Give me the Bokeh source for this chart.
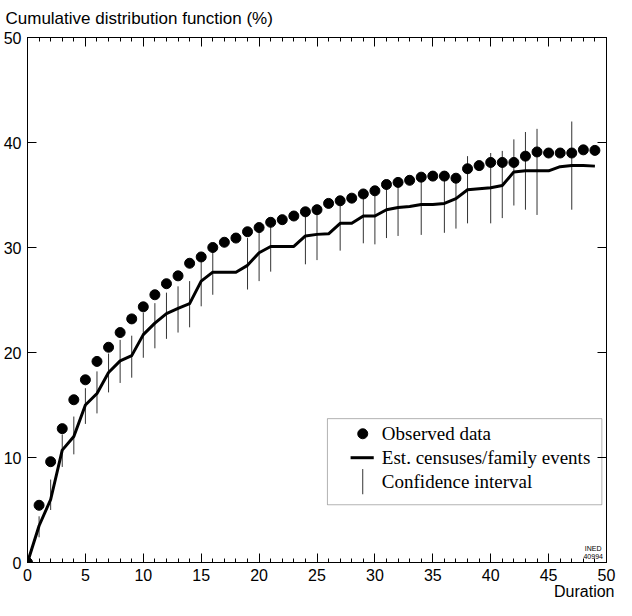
from bokeh.plotting import figure
from bokeh.models import LinearAxis, FixedTicker, Range1d, Title, Label, BoxAnnotation
from bokeh.embed import file_html
from bokeh.resources import INLINE

# ---------------- data ----------------
durations = list(range(50))
observed = [0.0, 5.45, 9.6, 12.75, 15.5, 17.4, 19.15, 20.5, 21.9, 23.2,
            24.35, 25.5, 26.55, 27.3, 28.5, 29.1, 30.0, 30.5, 30.9, 31.5,
            31.9, 32.4, 32.65, 33.0, 33.4, 33.6, 34.2, 34.45, 34.7, 35.1,
            35.4, 36.0, 36.2, 36.4, 36.7, 36.8, 36.8, 36.6, 37.5, 37.8,
            38.1, 38.1, 38.1, 38.7, 39.1, 39.0, 39.0, 39.0, 39.3, 39.25]
estimated = [0.0, 3.5, 6.0, 10.7, 12.0, 15.0, 16.1, 18.1, 19.2, 19.7,
             21.7, 22.8, 23.7, 24.2, 24.65, 26.8, 27.65, 27.65, 27.65, 28.3,
             29.5, 30.1, 30.1, 30.1, 31.1, 31.25, 31.3, 32.3, 32.3, 33.0,
             33.0, 33.6, 33.8, 33.9, 34.1, 34.1, 34.2, 34.65, 35.5, 35.6,
             35.7, 35.9, 37.2, 37.3, 37.3, 37.3, 37.7, 37.8, 37.8, 37.75]
ci_x = [1, 2, 3, 4, 5, 6, 7, 8, 9, 10, 11, 12, 13, 14, 15, 16, 19, 20, 21,
        24, 25, 27, 29, 30, 31, 32, 34, 36, 37, 38, 40, 41, 42, 43, 44, 47]
ci_low = [2.4, 5.0, 9.1, 10.3, 13.2, 14.2, 16.2, 17.1, 17.6, 19.5, 20.4, 21.3,
          21.9, 22.4, 24.4, 25.5, 26.0, 26.8, 27.7, 28.4, 28.8, 29.7, 30.4,
          30.3, 30.9, 31.1, 31.2, 31.4, 31.8, 32.3, 32.3, 32.8, 34.0, 33.6,
          33.1, 33.6]
ci_high = [4.4, 7.9, 12.2, 13.9, 16.6, 18.2, 19.9, 21.2, 21.6, 23.8, 24.7, 25.7,
           26.3, 26.8, 28.7, 29.8, 30.9, 31.9, 32.4, 33.3, 33.6, 34.4, 35.0,
           35.3, 35.9, 36.1, 36.5, 36.7, 37.0, 38.7, 39.0, 39.2, 40.3, 41.0,
           41.3, 42.0]

x_ticks = [0, 5, 10, 15, 20, 25, 30, 35, 40, 45, 50]
x_minor_ticks = list(range(0, 51))
y_ticks = [0, 10, 20, 30, 40, 50]

title_text = "Cumulative distribution function (%)"
x_label = "Duration"
legend_labels = ["Observed data", "Est. censuses/family events", "Confidence interval"]
stamp_lines = ["INED", "40994"]

SANS = "Liberation Sans"
SERIF = "Liberation Serif"

# ---------------- figure ----------------
p = figure(width=616, height=600, output_backend="svg", toolbar_location=None,
           x_range=Range1d(0, 50), y_range=Range1d(0, 50),
           x_axis_location=None, y_axis_location=None,
           min_border_left=22, min_border_right=10, min_border_top=0, min_border_bottom=0)
p.grid.visible = False
p.outline_line_color = "black"
p.outline_line_width = 1
p.background_fill_color = "white"
p.border_fill_color = "white"


def style_axis(ax, ticks, labels, minor=True):
    ax.axis_label = None
    ax.axis_line_color = "black"
    ax.axis_line_width = 1
    ax.major_tick_line_color = "black"
    ax.minor_tick_line_color = "black"
    ax.major_tick_in = 9
    ax.major_tick_out = 0
    ax.minor_tick_in = 4 if minor else 0
    ax.minor_tick_out = 0
    ax.axis_label_standoff = 0
    ax.major_label_text_font = SANS
    ax.major_label_text_font_size = "16px"
    ax.major_label_text_color = "black"
    if not labels:
        ax.major_label_overrides = {t: "" for t in ticks}
        ax.major_label_standoff = 0


xb = LinearAxis(ticker=FixedTicker(ticks=x_ticks, minor_ticks=x_minor_ticks))
style_axis(xb, x_ticks, True)
xb.major_label_standoff = 6
xt = LinearAxis(ticker=FixedTicker(ticks=x_ticks, minor_ticks=x_minor_ticks))
style_axis(xt, x_ticks, False)
yl = LinearAxis(ticker=FixedTicker(ticks=y_ticks, minor_ticks=[]))
style_axis(yl, y_ticks, True, minor=False)
yl.major_label_standoff = 6
yr = LinearAxis(ticker=FixedTicker(ticks=y_ticks, minor_ticks=[]))
style_axis(yr, y_ticks, False, minor=False)

p.add_layout(xb, "below")
p.add_layout(xt, "above")
p.add_layout(yl, "left")
p.add_layout(yr, "right")

p.add_layout(Title(text=title_text, align="left", offset=-22, standoff=16, vertical_align="top",
                   text_font=SANS, text_font_size="17px", text_font_style="normal",
                   text_color="black"), "above")
p.add_layout(Title(text=x_label, align="right", offset=-8, standoff=-2, vertical_align="top",
                   text_font=SANS, text_font_size="16px", text_font_style="normal",
                   text_color="black"), "below")

# ---------------- data marks ----------------
p.segment(x0=ci_x, y0=ci_low, x1=ci_x, y1=ci_high, line_color="#333333", line_width=1)
p.line(durations, estimated, line_color="black", line_width=3, line_join="round")
p.scatter(durations, observed, size=10, fill_color="black", line_color="black")

# ---------------- legend (drawn by hand) ----------------
LG = dict(left=25.9, right=49.6, top=13.7, bottom=5.5,
          sym_x=28.95, line_x0=27.9, line_x1=29.9, text_x=30.6,
          rows=[12.26, 9.98, 7.7], ci_y0=6.5, ci_y1=8.9)
p.add_layout(BoxAnnotation(left=LG["left"], right=LG["right"], top=LG["top"], bottom=LG["bottom"],
                           fill_color=None, line_color="black", line_width=1))
p.scatter([LG["sym_x"]], [LG["rows"][0]], size=10, fill_color="black", line_color="black")
p.line([LG["line_x0"], LG["line_x1"]], [LG["rows"][1]] * 2, line_color="black", line_width=3)
p.segment(x0=[LG["sym_x"]], y0=[LG["ci_y0"]], x1=[LG["sym_x"]], y1=[LG["ci_y1"]],
          line_color="#333333", line_width=1)
for lab, yy in zip(legend_labels, LG["rows"]):
    p.add_layout(Label(x=LG["text_x"], y=yy, text=lab, text_baseline="middle",
                       text_font=SERIF, text_font_size="19px", text_color="black"))

# ---------------- stamp ----------------
for s, yy in zip(stamp_lines, [1.35, 0.55]):
    p.add_layout(Label(x=48.85, y=yy, text=s, text_align="center", text_baseline="middle",
                       text_font=SANS, text_font_size="7px", text_color="black"))

open("out.html", "w").write(file_html(p, INLINE))
